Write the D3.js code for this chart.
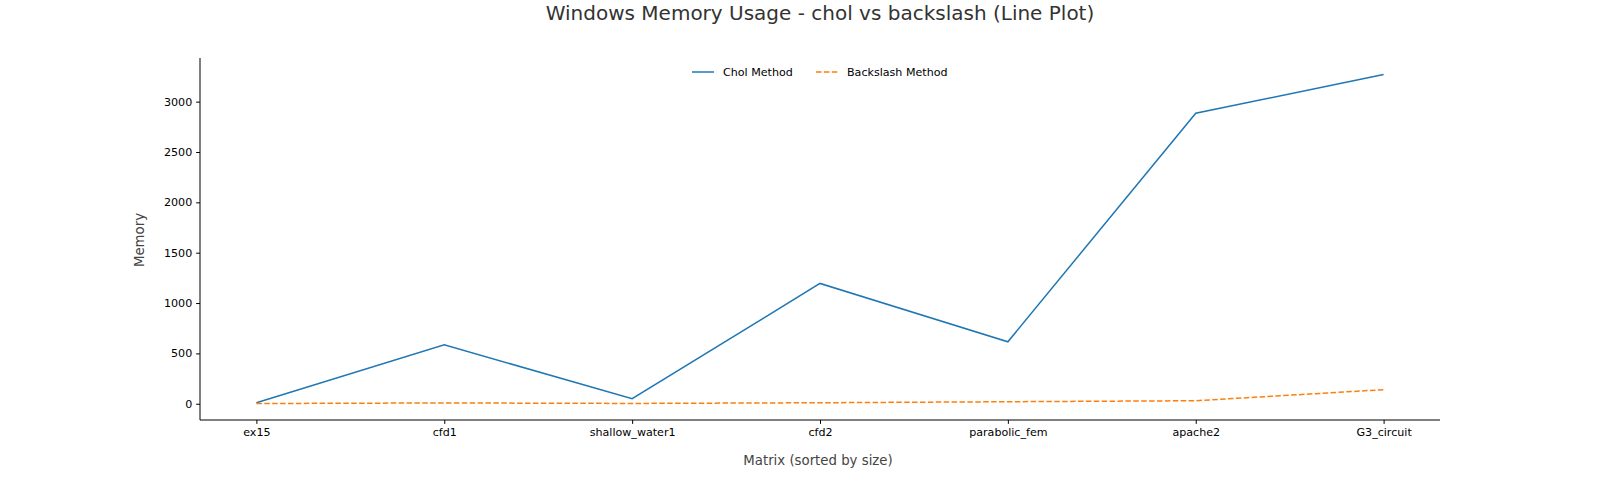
<!DOCTYPE html>
<html>
<head>
<meta charset="utf-8">
<script src="https://cdn.jsdelivr.net/npm/d3@7"></script>
<style>
  body { margin: 0; background: #fff; }
  svg { display: block; font-family: "DejaVu Sans", sans-serif; }
</style>
</head>
<body>
<svg id="chart" width="1600" height="480"></svg>
<script>
const categories = ["ex15", "cfd1", "shallow_water1", "cfd2", "parabolic_fem", "apache2", "G3_circuit"];
const cholValues = [10, 585, 50, 1195, 615, 2885, 3270];
const backslashValues = [2, 8, 3, 10, 20, 30, 140];
const yTicks = [0, 500, 1000, 1500, 2000, 2500, 3000];
const seriesNames = ["Chol Method", "Backslash Method"];

(function () {
const svg = d3.select("#chart");
const mLeft = 200, mRight = 1440, mTop = 58, mBottom = 420;

const x = d3.scalePoint().domain(categories).range([256.4, 1383.6]);
const allVals = cholValues.concat(backslashValues);
const yMin = d3.min(allVals), yMax = d3.max(allVals);
const pad = (yMax - yMin) * 0.05;
const y = d3.scaleLinear().domain([yMin - pad, yMax + pad]).range([mBottom, mTop]);

// axes
const xAxis = svg.append("g").attr("transform", `translate(0,${mBottom})`)
  .call(d3.axisBottom(x).tickSize(3.9).tickPadding(3.9));
xAxis.select(".domain").attr("d", `M${mLeft},0H${mRight}`).attr("stroke", "#000").attr("stroke-width", 1);
xAxis.selectAll("text").attr("font-size", 11.1).attr("fill", "#000").attr("font-family", "DejaVu Sans");

const yAxis = svg.append("g").attr("transform", `translate(${mLeft},0)`)
  .call(d3.axisLeft(y).tickValues(yTicks).tickFormat(d3.format("d")).tickSize(3.9).tickPadding(3.9));
yAxis.select(".domain").attr("d", `M0,${mBottom}V${mTop}`).attr("stroke", "#000").attr("stroke-width", 1);
yAxis.selectAll("text").attr("font-size", 11.1).attr("fill", "#000").attr("font-family", "DejaVu Sans");

// lines
const line = d3.line().x((d, i) => x(categories[i])).y(d => y(d));
svg.append("path").datum(cholValues).attr("d", line)
  .attr("fill", "none").attr("stroke", "#1f77b4").attr("stroke-width", 1.5);
svg.append("path").datum(backslashValues).attr("d", line)
  .attr("fill", "none").attr("stroke", "#ff7f0e").attr("stroke-width", 1.5)
  .attr("stroke-dasharray", "5.5,2.4");

// title
svg.append("text").attr("x", 820).attr("y", 20).attr("text-anchor", "middle")
  .attr("font-size", 20).attr("fill", "#333").text("Windows Memory Usage - chol vs backslash (Line Plot)");

// axis labels
svg.append("text").attr("x", 818).attr("y", 465).attr("text-anchor", "middle")
  .attr("font-size", 13.3).attr("fill", "#444").text("Matrix (sorted by size)");
svg.append("text").attr("transform", "translate(144,240) rotate(-90)").attr("text-anchor", "middle")
  .attr("font-size", 13.3).attr("fill", "#444").text("Memory");

// legend
const legend = svg.append("g");
const legItems = [
  {name: seriesNames[0], color: "#1f77b4", dash: null, x0: 692},
  {name: seriesNames[1], color: "#ff7f0e", dash: "5.5,2.4", x0: 816}
];
legItems.forEach(it => {
  legend.append("line").attr("x1", it.x0).attr("x2", it.x0 + 22).attr("y1", 72).attr("y2", 72)
    .attr("stroke", it.color).attr("stroke-width", 1.5).attr("stroke-dasharray", it.dash);
  legend.append("text").attr("x", it.x0 + 31).attr("y", 76).attr("font-size", 11.1)
    .attr("fill", "#000").text(it.name);
});
})();
</script>
</body>
</html>
